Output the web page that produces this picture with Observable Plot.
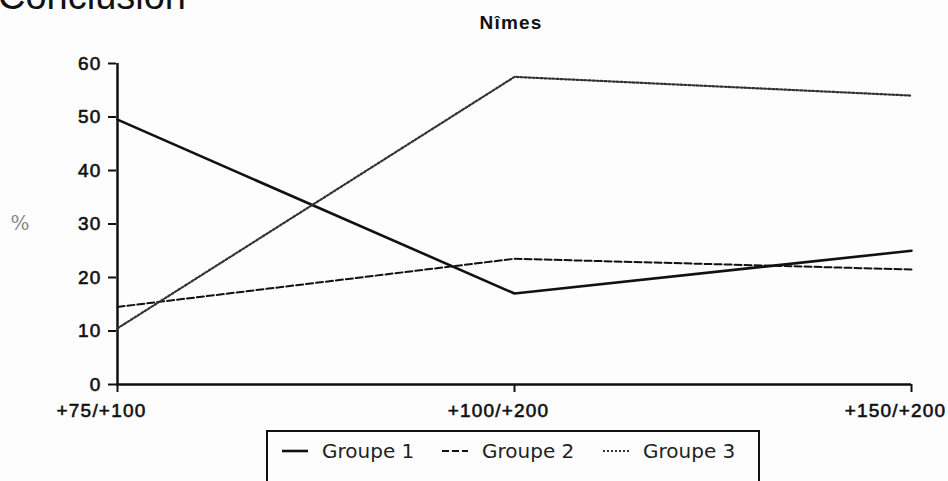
<!DOCTYPE html>
<html>
<head>
<meta charset="utf-8">
<script src="https://cdn.jsdelivr.net/npm/d3@7"></script>
<script src="https://cdn.jsdelivr.net/npm/@observablehq/plot@0.6"></script>
<style>
  html, body { margin: 0; padding: 0; background: #fdfdfd; }
  #wrap { position: relative; width: 948px; height: 481px; overflow: hidden; background: #fdfdfd; }
  #title { position: absolute; left: -2px; top: -23px; font: 38px "Liberation Sans", Arial, sans-serif; line-height: 1; color: #111; white-space: nowrap; }
  #chart { position: absolute; left: 0; top: 0; }
  #chart text { letter-spacing: 1.2px; }
  #legend { position: absolute; left: 266px; top: 430px; width: 494px; height: 70px; border: 2px solid #111; box-sizing: border-box; background: #fdfdfd; }
  .item { position: absolute; top: 7px; display: flex; align-items: center; font: 20px "DejaVu Sans", sans-serif; color: #222; white-space: nowrap; }
  .item svg { margin-right: 14px; }
</style>
</head>
<body>
<div id="wrap">
  <div id="chart"></div>
  <div id="title">Conclusion</div>
  <div id="legend"></div>
</div>
<script>
const categories = ["+75/+100", "+100/+200", "+150/+200"];
const seriesNames = ["Groupe 1", "Groupe 2", "Groupe 3"];
const groupe1 = [49.5, 17, 25];
const groupe2 = [14.5, 23.5, 21.5];
const groupe3 = [10.5, 57.5, 54];
const yTicks = [0, 10, 20, 30, 40, 50, 60];
const subtitle = "Nîmes";
const yLabel = "%";

const values = [groupe1, groupe2, groupe3];
const rows = seriesNames.flatMap((s, i) => categories.map((c, j) => ({serie: s, cat: c, value: values[i][j]})));
const styles = {
  "Groupe 1": {stroke: "#111", strokeWidth: 2.6, dash: null},
  "Groupe 2": {stroke: "#111", strokeWidth: 2, dash: "7,3"},
  "Groupe 3": {stroke: "#333", strokeWidth: 2.2, dash: "2,2"}
};

const lines = seriesNames.map(s => Plot.line(rows.filter(r => r.serie === s), {
  x: "cat", y: "value",
  stroke: styles[s].stroke, strokeWidth: styles[s].strokeWidth,
  strokeDasharray: styles[s].dash
}));

const labelFont = {fontSize: 19, fontFamily: "'Liberation Sans', Arial, sans-serif", fill: "#111", stroke: "#111", strokeWidth: 0.6, lineAnchor: "middle"};

const plot = Plot.plot({
  width: 948,
  height: 430,
  marginTop: 63,
  marginBottom: 46,
  marginLeft: 116,
  marginRight: 37,
  style: {background: "transparent", fontFamily: "'Liberation Sans', Arial, sans-serif"},
  x: {type: "point", domain: categories, padding: 0},
  y: {domain: [0, 60]},
  marks: [
    Plot.axisY({ticks: yTicks, tickSize: 8, text: null, label: null, stroke: "#111", strokeWidth: 2}),
    Plot.axisX({tickSize: 8, text: null, label: null, stroke: "#111", strokeWidth: 2}),
    Plot.text(yTicks, {y: d => d, frameAnchor: "left", dx: -15, textAnchor: "end", ...labelFont}),
    Plot.text(categories, {x: d => d, frameAnchor: "bottom", dy: 26, dx: -16, textAnchor: "middle", ...labelFont}),
    Plot.ruleX([categories[0]], {y1: 0, y2: 60, stroke: "#111", strokeWidth: 2.5}),
    Plot.ruleY([0], {stroke: "#111", strokeWidth: 2.5}),
    ...lines,
    Plot.text([subtitle], {frameAnchor: "top", dy: -41, dx: -3, lineAnchor: "middle", fontSize: 19, fontWeight: "bold", fill: "#111"}),
    Plot.text([yLabel], {frameAnchor: "left", dx: -96, textAnchor: "middle", fontSize: 20, fill: "#888", fontFamily: "'DejaVu Serif', serif"})
  ]
});
document.getElementById("chart").appendChild(plot);

// legend
const legend = document.getElementById("legend");
const positions = [14, 174, 335];
seriesNames.forEach((s, i) => {
  const item = document.createElement("div");
  item.className = "item";
  item.style.left = positions[i] + "px";
  const st = styles[s];
  item.innerHTML = `<svg width="26" height="20"><line x1="0" x2="26" y1="10" y2="10" stroke="${st.stroke}" stroke-width="${st.strokeWidth}" ${st.dash ? `stroke-dasharray="${st.dash}"` : ""}></line></svg><span>${s}</span>`;
  legend.appendChild(item);
});
</script>
</body>
</html>
